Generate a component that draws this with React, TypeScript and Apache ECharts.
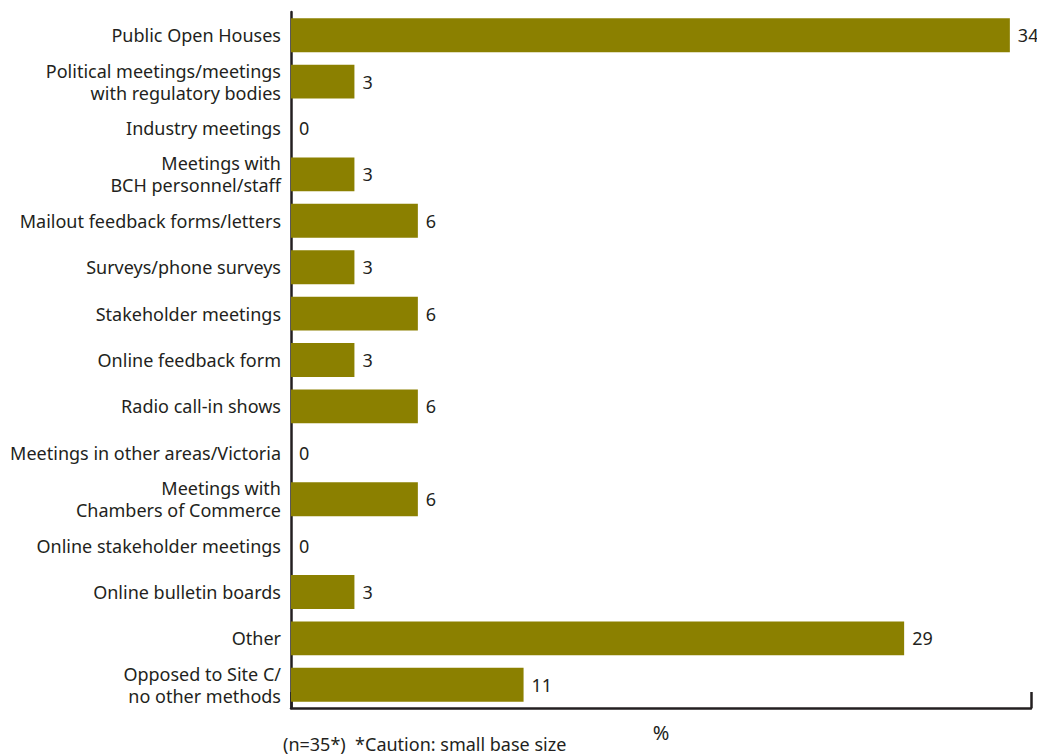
import React, { useEffect, useRef } from "react";
import * as echarts from "echarts";

const categories: string[] = [
  "Public Open Houses",
  "Political meetings/meetings\nwith regulatory bodies",
  "Industry meetings",
  "Meetings with\nBCH personnel/staff",
  "Mailout feedback forms/letters",
  "Surveys/phone surveys",
  "Stakeholder meetings",
  "Online feedback form",
  "Radio call-in shows",
  "Meetings in other areas/Victoria",
  "Meetings with\nChambers of Commerce",
  "Online stakeholder meetings",
  "Online bulletin boards",
  "Other",
  "Opposed to Site C/\nno other methods",
];

const values: number[] = [34, 3, 0, 3, 6, 3, 6, 3, 6, 0, 6, 0, 3, 29, 11];

const xMin = 0;
const xMax = 35;
const axisTitle = "%";
const footnote = "(n=35*)  *Caution: small base size";

const FONT = "'Noto Sans', sans-serif";
const TEXT = "#231f20";
const BAR = "#8b8000";

export default function App() {
  const ref = useRef<HTMLDivElement>(null);
  useEffect(() => {
    document.body.style.margin = "0";
    if (!ref.current) return;
    const chart = echarts.init(ref.current, null, { renderer: "svg" });
    chart.setOption({
      animation: false,
      backgroundColor: "#ffffff",
      textStyle: { fontFamily: FONT },
      grid: { left: 291, right: 6, top: 12, bottom: 47, containLabel: false },
      xAxis: {
        type: "value",
        min: xMin,
        max: xMax,
        interval: xMax,
        name: axisTitle,
        nameLocation: "middle",
        nameGap: 14,
        nameTextStyle: { fontFamily: FONT, fontSize: 20, color: TEXT },
        axisLine: { show: true, lineStyle: { color: TEXT, width: 2.5 } },
        axisTick: { show: true, inside: true, length: 16, lineStyle: { color: TEXT, width: 2.5 } },
        axisLabel: { show: false },
        splitLine: { show: false },
      },
      yAxis: {
        type: "category",
        data: categories,
        inverse: true,
        axisLine: { show: true, lineStyle: { color: TEXT, width: 2.5 } },
        axisTick: { show: false },
        axisLabel: {
          fontFamily: FONT,
          fontSize: 18,
          color: TEXT,
          margin: 10,
          lineHeight: 22,
          align: "right",
        },
      },
      series: [
        {
          type: "bar",
          data: values,
          barCategoryGap: "27%",
          itemStyle: { color: BAR },
          label: {
            show: true,
            position: "right",
            distance: 8,
            fontFamily: FONT,
            fontSize: 18,
            color: TEXT,
          },
        },
      ],
      graphic: [
        {
          type: "text",
          left: 283,
          top: 735,
          style: { text: footnote, fontFamily: FONT, fontSize: 18, fill: TEXT },
        },
      ],
    });
    return () => chart.dispose();
  }, []);
  return <div ref={ref} style={{ width: 1037, height: 755 }} />;
}
